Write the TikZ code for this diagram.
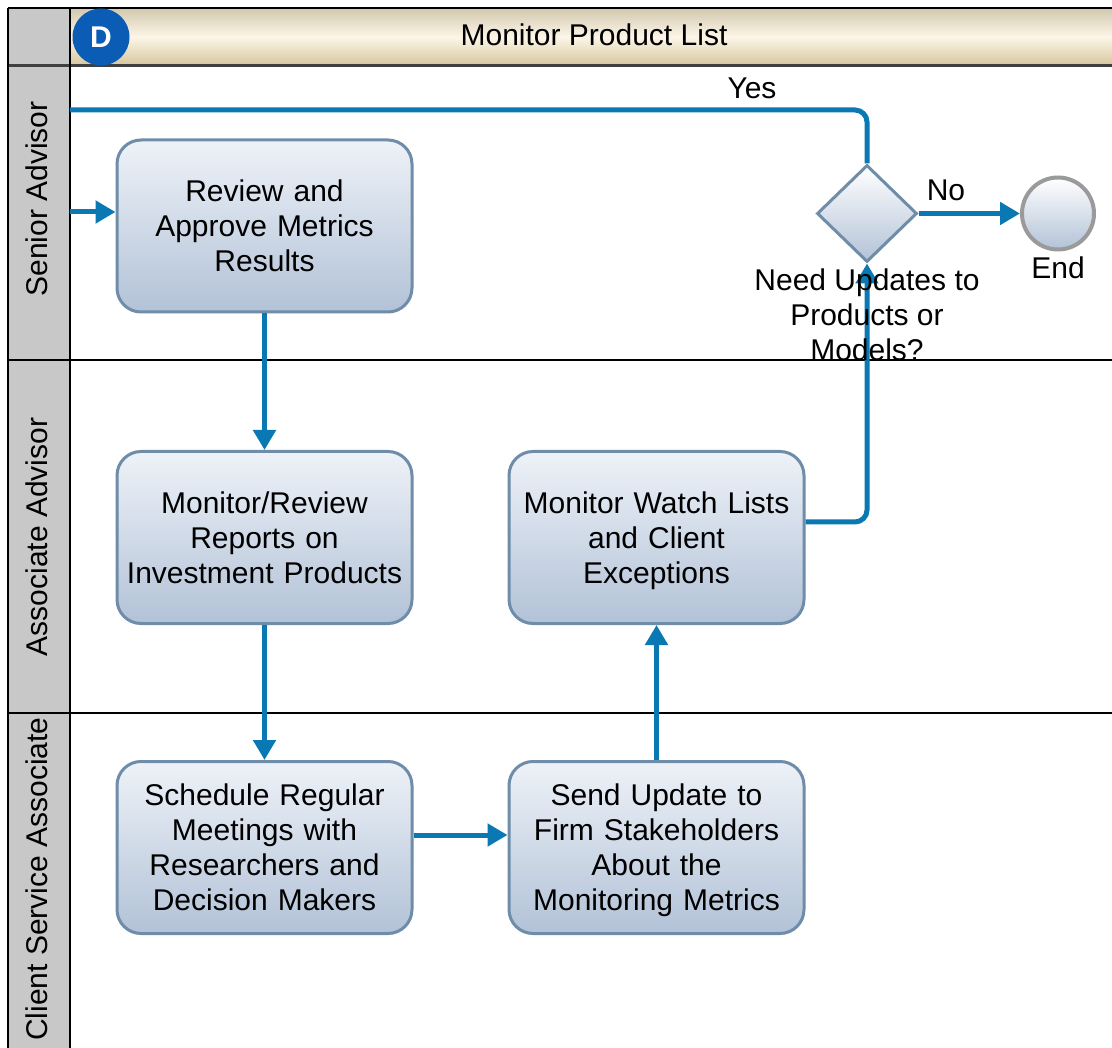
\documentclass[tikz,border=0pt]{standalone}
\usepackage{fontspec}
\setmainfont{Liberation Sans}
\usetikzlibrary{shapes.geometric,arrows.meta}

\definecolor{flow}{HTML}{0A78B2}
\definecolor{boxedge}{HTML}{6F8CA8}
\definecolor{boxtop}{HTML}{EEF2F8}
\definecolor{boxbot}{HTML}{B2C2D7}
\definecolor{lanegrey}{HTML}{C8C8C8}
\definecolor{hdrtop}{HTML}{D2C8AE}
\definecolor{hdrbot}{HTML}{D6C59C}
\definecolor{hdrcream}{HTML}{FCF6E8}
\definecolor{badge}{HTML}{0A5CB4}
\definecolor{endedge}{HTML}{9A9A9A}

\begin{document}
\begin{tikzpicture}[x=1pt,y=-1pt,
  txt/.style={font=\fontsize{30}{35}\selectfont, align=center, inner sep=0pt},
  task/.style={txt, draw=boxedge, line width=3pt, rounded corners=24pt,
    minimum width=295pt, minimum height=172pt, text width=280pt,
    top color=boxtop, bottom color=boxbot},
  gateway/.style={diamond, draw=boxedge, line width=3pt, inner sep=0pt,
    minimum width=100pt, minimum height=97pt, top color=white, bottom color=boxbot},
  endevent/.style={circle, draw=endedge, line width=4pt, minimum size=72pt,
    inner sep=0pt, top color=white, bottom color=boxbot},
  lanelabel/.style={txt, rotate=90},
  conn/.style={draw=flow, line width=5pt},
  flowarrow/.style={conn, -{Triangle[length=20pt,width=22pt]}},
  sep/.style={draw=black, line width=1.6pt}
]
\useasboundingbox (0,0) rectangle (1112,1048);

% lane header column and title bar
\fill[lanegrey] (8,8) rectangle (70,1048);
\shade[top color=hdrtop, bottom color=hdrbot, middle color=hdrcream] (70,8) rectangle (1112,66);
\draw[sep] (8,8) -- (1112,8);
\draw[draw=black!75, line width=3pt] (8,66) -- (1112,66);
\draw[sep] (8,8) -- (8,1048);
\draw[sep] (70,8) -- (70,1048);
\draw[sep] (8,360) -- (1112,360);
\draw[sep] (8,713) -- (1112,713);

\node[circle, fill=badge, minimum size=57pt, inner sep=0pt, text=white,
  font=\fontsize{30}{30}\selectfont\bfseries] (badgeD) at (101,37) {D};
\node[txt] (title) at (594,35) {Monitor Product List};

% lane names
\node[lanelabel] (laneSenior) at (37,199) {Senior Advisor};
\node[lanelabel] (laneAssoc) at (37,537) {Associate Advisor};
\node[lanelabel] (laneClient) at (37,879) {Client Service Associate};

% activities (last lines smashed so descenders do not lift the text block)
\node[task] (review) at (264.5,226) {Review and\\Approve Metrics\\Results};
\node[task] (monrev) at (264.5,537.5) {Monitor/Review\\Reports on\\Investment Products};
\node[task] (sched) at (264.5,847.5) {Schedule Regular\\Meetings with\\Researchers and\\Decision Makers};
\node[task] (watch) at (656.5,537.5) {Monitor Watch Lists\\and Client\\\smash{Exceptions}};
\node[task] (send) at (656.5,847.5) {Send Update to\\Firm Stakeholders\\About the\\\smash{Monitoring Metrics}};

% decision and end event
\node[gateway] (dec) at (867,213.5) {};
\node[endevent] (finish) at (1058,213.5) {};

% connectors
\coordinate (inSenior) at (70,212);
\coordinate (yesOut) at (70,110);
\draw[flowarrow] (inSenior) -- (inSenior -| review.west);
\draw[flowarrow] (review.south) -- (monrev.north);
\draw[flowarrow] (monrev.south) -- (sched.north);
\draw[flowarrow] ([yshift=12.5pt]sched.east) -- ([yshift=12.5pt]send.west);
\draw[flowarrow] (send.north) -- (watch.south);
\draw[flowarrow, rounded corners=12pt] ([yshift=15.5pt]watch.east) -| (dec.south);
\draw[conn, rounded corners=12pt] (dec.north) |- (yesOut);
\draw[flowarrow] (dec.east) -- (finish.west);

% labels
\node[txt] (yesLbl) at (752,88) {Yes};
\node[txt] (noLbl) at (946,190) {No};
\node[txt] (endLbl) at (1058,268) {End};
\node[txt] (decLbl) at (867,315) {Need Updates to\\Products or\\Models?};
\end{tikzpicture}
\end{document}
